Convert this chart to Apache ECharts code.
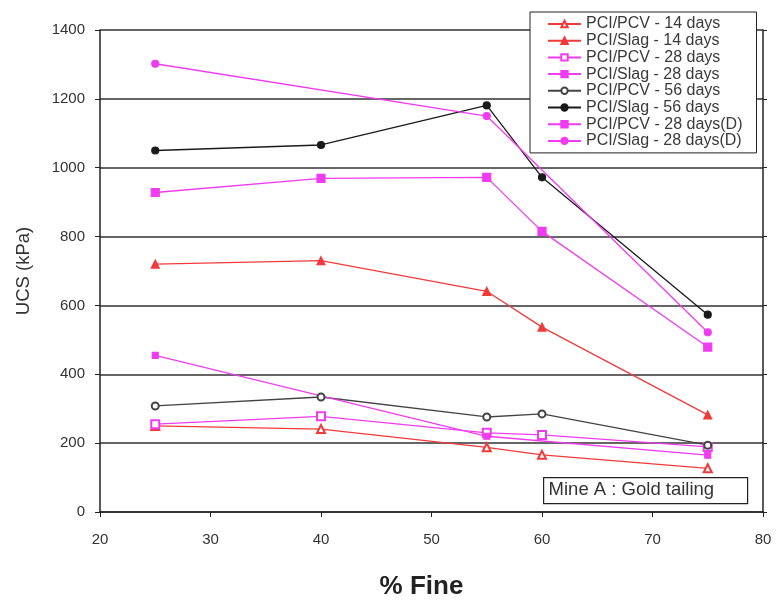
<!DOCTYPE html>
<html>
<head>
<meta charset="utf-8">
<script src="https://cdn.jsdelivr.net/npm/echarts@6/dist/echarts.min.js"></script>
<style>
html,body{margin:0;padding:0;background:#fff;}
#chart{width:776px;height:601px;}
</style>
</head>
<body>
<div id="chart"></div>
<script>
// Data
var fines = [25, 40, 55, 60, 75];
var pcv14 = [250, 241, 188, 166, 127];
var slag14 = [720, 730, 641, 537, 282];
var pcv28 = [255, 278, 230, 224, 189];
var slag28 = [928, 969, 972, 815, 479];
var pcv56 = [308, 334, 276, 285, 194];
var slag56 = [1050, 1066, 1181, 972, 573];
var pcv28D = [455, null, 220, null, 165];
var slag28D = [1302, null, 1150, null, 522];
var seriesNames = [
  'PCI/PCV - 14 days', 'PCI/Slag - 14 days',
  'PCI/PCV - 28 days', 'PCI/Slag - 28 days',
  'PCI/PCV - 56 days', 'PCI/Slag - 56 days',
  'PCI/PCV - 28 days(D)', 'PCI/Slag - 28 days(D)'
];
var yTicks = [0, 200, 400, 600, 800, 1000, 1200, 1400];
var xTicks = [20, 30, 40, 50, 60, 70, 80];
var noteText = 'Mine A : Gold tailing';

function pairs(vals) {
  var out = [];
  for (var i = 0; i < fines.length; i++) {
    if (vals[i] !== null) out.push([fines[i], vals[i]]);
  }
  return out;
}

var RED = '#f23a3a', MAG = '#f03cf0', BLK = '#1a1a1a', GRY = '#444444';
var FONT = 'Liberation Sans, Arial, sans-serif';

function mk(name, vals, color, symbol, size) {
  return {
    name: name, type: 'line', data: pairs(vals),
    symbol: symbol, symbolSize: size,
    lineStyle: { color: color, width: 1.3 },
    itemStyle: { color: color, borderColor: color, borderWidth: 1.2 },
    connectNulls: true, z: 3, animation: false
  };
}

var chart = echarts.init(document.getElementById('chart'));
chart.setOption({
  backgroundColor: '#fff',
  animation: false,
  grid: { left: 100, right: 13, top: 30, bottom: 89, containLabel: false, outerBoundsMode: 'none' },
  xAxis: {
    type: 'value', min: xTicks[0], max: xTicks[xTicks.length - 1], interval: 10,
    name: '% Fine', nameLocation: 'middle', nameGap: 62,
    nameTextStyle: { fontFamily: FONT, fontSize: 26, fontWeight: 'bold', color: '#222', padding: [0, 20, 0, 0] },
    axisLine: { show: true, lineStyle: { color: '#222', width: 1.5 } },
    axisTick: { show: true, inside: false, length: 5, lineStyle: { color: '#222' } },
    axisLabel: { fontFamily: FONT, fontSize: 15, color: '#333', margin: 20 },
    splitLine: { show: false }
  },
  yAxis: [{
    type: 'value', min: yTicks[0], max: yTicks[yTicks.length - 1], interval: 200,
    name: 'UCS (kPa)', nameLocation: 'middle', nameGap: 67, nameRotate: 90,
    nameTextStyle: { fontFamily: FONT, fontSize: 18.5, color: '#333' },
    axisLine: { show: true, lineStyle: { color: '#222', width: 1.5 } },
    axisTick: { show: true, length: 5, lineStyle: { color: '#222' } },
    axisLabel: { fontFamily: FONT, fontSize: 15, color: '#333', margin: 15,
      formatter: function (v) { return String(v); } },
    splitLine: { show: true, lineStyle: { color: '#333', width: 1.5 } }
  }, {
    type: 'value', min: yTicks[0], max: yTicks[yTicks.length - 1], interval: 200,
    position: 'right',
    axisLine: { show: true, lineStyle: { color: '#222', width: 1.5 } },
    axisTick: { show: true, inside: false, length: 4, lineStyle: { color: '#222' } },
    axisLabel: { show: false },
    splitLine: { show: false }
  }],
  legend: {
    orient: 'vertical', left: 530, top: 12,
    backgroundColor: '#fff',
    borderColor: '#222', borderWidth: 1,
    padding: [4, 14, 4, 17],
    itemGap: 0.7, itemWidth: 33, itemHeight: 8,
    textStyle: { fontFamily: FONT, fontSize: 16, color: '#3a3a3a', lineHeight: 15 },
    data: seriesNames
  },
  series: [
    mk(seriesNames[0], pcv14, RED, 'emptyTriangle', 8),
    mk(seriesNames[1], slag14, RED, 'triangle', 8),
    mk(seriesNames[2], pcv28, MAG, 'emptyRect', 8),
    mk(seriesNames[3], slag28, MAG, 'rect', 8),
    mk(seriesNames[4], pcv56, GRY, 'emptyCircle', 7),
    mk(seriesNames[5], slag56, BLK, 'circle', 7),
    mk(seriesNames[6], pcv28D, MAG, 'rect', 6),
    mk(seriesNames[7], slag28D, MAG, 'circle', 7)
  ],
  graphic: [{
    type: 'group', left: 543, top: 477, z: 10,
    children: [{
      type: 'rect', shape: { x: 0, y: 0, width: 204, height: 26 },
      style: { fill: '#fff', stroke: '#222', lineWidth: 1.2 }
    }, {
      type: 'text', left: 5, top: 3,
      style: { text: noteText, font: '18.5px ' + FONT, fill: '#333' }
    }]
  }]
});
</script>
</body>
</html>
